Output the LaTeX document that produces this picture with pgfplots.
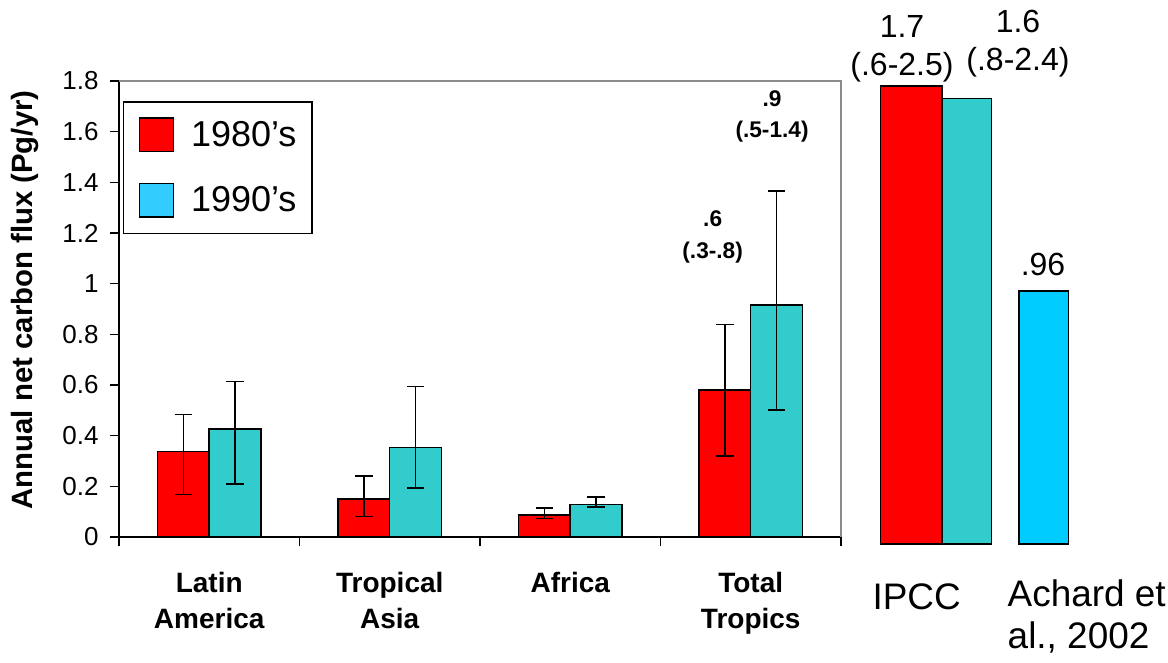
\documentclass[border=0pt]{standalone}
\usepackage{fontspec}
\setmainfont{Liberation Sans}
\usepackage{pgfplots}
\usepackage{pgfplotstable}
\pgfplotsset{compat=1.18}

\definecolor{cRed}{HTML}{FF0000}
\definecolor{cTeal}{HTML}{33CCCC}
\definecolor{cSky}{HTML}{00CCFF}
\definecolor{cLeg}{HTML}{33CCFF}
\definecolor{cFrame}{HTML}{8C8C8C}

% value, error plus, error minus (Pg/yr)
\pgfplotstableread{
x   y     ep    em
0   0.337 0.146 0.170
1   0.151 0.090 0.071
2   0.088 0.027 0.015
3   0.580 0.260 0.260
}\eighties
\pgfplotstableread{
x   y     ep    em
0   0.426 0.189 0.217
1   0.354 0.241 0.161
2   0.128 0.030 0.010
3   0.916 0.450 0.415
}\nineties

\begin{document}
\begin{tikzpicture}
\useasboundingbox (0,0) rectangle (876pt,496.5pt);

% regional estimates
\begin{axis}[
  at={(89.25pt,93.75pt)}, anchor=south west,
  scale only axis, width=541.5pt, height=342pt,
  xmin=-0.5, xmax=3.5, ymin=0, ymax=1.8,
  axis lines=left, axis line style={-, line width=1pt, black},
  clip=false, ybar,
  tick align=outside, major tick length=6.75pt,
  tick style={black, line width=0.9pt},
  xtick={-0.5,0.5,1.5,2.5,3.5}, xticklabels={,,,,},
  extra x ticks={0,1,2,3},
  extra x tick labels={{Latin\\America},{Tropical\\Asia},Africa,{Total\\Tropics}},
  extra x tick style={major tick length=0pt, tick style={draw=none}},
  xticklabel style={align=center, anchor=north, yshift=-23pt,
    font=\bfseries\fontsize{21}{27}\selectfont},
  ytick={0,0.2,0.4,0.6,0.8,1,1.2,1.4,1.6,1.8},
  yticklabel style={font=\fontsize{19.5}{22}\selectfont, xshift=-5pt},
  /pgf/number format/assume math mode=true,
  ylabel={Annual net carbon flux (Pg/yr)},
  every axis y label/.style={at={(rel axis cs:-0.130,0.52)}, rotate=90,
    anchor=center, font=\bfseries\fontsize{22}{26}\selectfont},
  legend image code/.code={\draw[#1] (0pt,-12.6pt) rectangle (25.2pt,12.6pt);},
  legend cell align=left,
  legend style={at={(0.005,0.956)}, anchor=north west, draw=black,
    line width=1.1pt, inner xsep=11.7pt, inner ysep=11.7pt,
    font=\fontsize{27}{30}\selectfont, row sep=22.8pt,
    nodes={inner sep=0pt},
    /tikz/every odd column/.append style={column sep=12.75pt}},
]
\draw[cFrame, line width=1.1pt] (rel axis cs:0,1) -- (rel axis cs:1,1) -- (rel axis cs:1,0);

\addplot[forget plot, bar width=0.287, bar shift=-0.143, fill=cRed, draw=black,
  line width=1.2pt,
  error bars/.cd, y dir=both, y explicit,
  error bar style={line width=1pt, black},
  error mark options={rotate=90, mark size=6.6pt, line width=1pt, black}]
  table[x=x, y=y, y error plus=ep, y error minus=em] {\eighties};
\addplot[forget plot, bar width=0.287, bar shift=0.143, fill=cTeal, draw=black,
  line width=1.2pt,
  error bars/.cd, y dir=both, y explicit,
  error bar style={line width=1pt, black},
  error mark options={rotate=90, mark size=6.6pt, line width=1pt, black}]
  table[x=x, y=y, y error plus=ep, y error minus=em] {\nineties};

\addlegendimage{fill=cRed, draw=black, line width=1.1pt}
\addlegendentry{1980’s}
\addlegendimage{fill=cLeg, draw=black, line width=1.1pt}
\addlegendentry{1990’s}

\node[font=\bfseries\fontsize{17}{23.5}\selectfont, align=center]
  at (axis cs:2.789,1.184) {.6\\(.3-.8)};
\node[font=\bfseries\fontsize{17}{23.5}\selectfont, align=center]
  at (axis cs:3.118,1.660) {.9\\(.5-1.4)};
\end{axis}

% pan-tropical estimates
\begin{axis}[
  at={(637.5pt,88.3pt)}, anchor=south west,
  scale only axis, width=238.5pt, height=404.4pt,
  xmin=850, xmax=1168, ymin=0, ymax=2,
  hide axis, clip=false, ybar, bar shift=0,
]
\addplot[fill=cRed, draw=black, line width=1.2pt, bar width=61.3]
  coordinates {(911.3,1.70)};
\addplot[fill=cTeal, draw=black, line width=1.2pt, bar width=49.7]
  coordinates {(966.8,1.654)};
\addplot[fill=cSky, draw=black, line width=1.2pt, bar width=49.7]
  coordinates {(1043.8,0.94)};

\node[font=\fontsize{24}{28.5}\selectfont, align=center]
  at (axis cs:902,1.838) {1.7\\(.6-2.5)};
\node[font=\fontsize{24}{28.5}\selectfont, align=center]
  at (axis cs:1018,1.858) {1.6\\(.8-2.4)};
\node[font=\fontsize{24}{26}\selectfont] at (axis cs:1043,1.037) {.96};
\node[font=\fontsize{27.7}{31}\selectfont] at (axis cs:916.7,-0.194) {IPCC};
\node[font=\fontsize{27.7}{31}\selectfont, align=left, anchor=west]
  at (axis cs:1003,-0.268) {Achard et\\al., 2002};
\end{axis}
\end{tikzpicture}
\end{document}
